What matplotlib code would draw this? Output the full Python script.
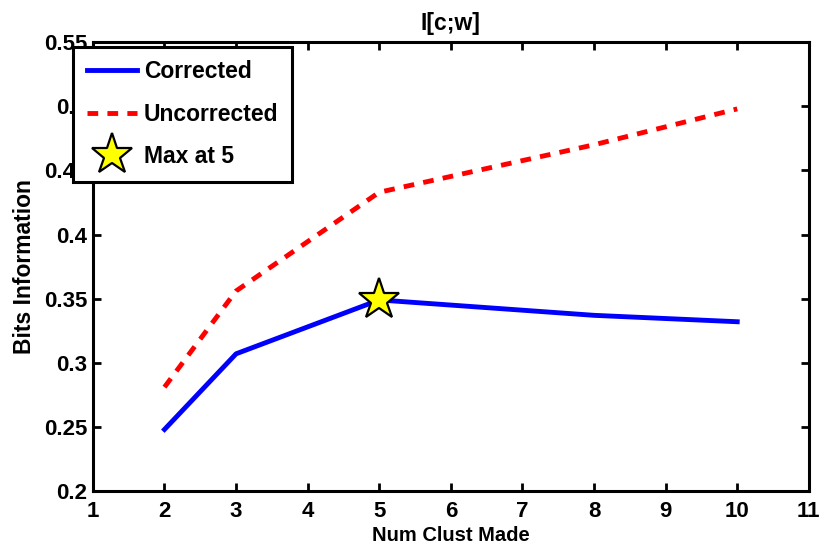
import numpy as np
import matplotlib
matplotlib.use('Agg')
from matplotlib import pyplot as plt

# datos
num_clust = [2, 3, 5, 8, 10]
corregido = [0.248, 0.307, 0.349, 0.337, 0.332]
sin_corregir = [0.281, 0.356, 0.433, 0.470, 0.498]
max_x = 5
max_y = 0.349

plt.rcParams['font.family'] = ['Liberation Sans', 'DejaVu Sans']
plt.rcParams['font.weight'] = 'bold'

fig = plt.figure(figsize=(8.22, 5.48), dpi=100)
ax = fig.add_axes([0.113, 0.104, 0.871, 0.819])

ax.plot(num_clust, corregido, color='#0000ff', lw=3.5, label='Corrected')
ax.plot(num_clust, sin_corregir, color='#ff0000', lw=3.5, dashes=(2.2, 1.9),
        label='Uncorrected')
ax.plot([max_x], [max_y], ls='none', marker='*', ms=31, mfc='#ffff00',
        mec='black', mew=1.6, label='Max at 5', zorder=4)

ax.set_xlim(1, 11)
ax.set_ylim(0.2, 0.55)
ax.set_xticks(range(1, 12))
ax.set_yticks(np.arange(0.2, 0.5501, 0.05))
ax.set_yticklabels(['0.2', '0.25', '0.3', '0.35', '0.4', '0.45', '0.5', '0.55'])

ax.tick_params(direction='in', length=6, width=2, top=True, right=True,
               labelsize=16)
ax.tick_params(axis='x', pad=7)
ax.tick_params(axis='y', pad=4)
for lab in ax.get_xticklabels() + ax.get_yticklabels():
    lab.set_fontweight('bold')
for sp in ax.spines.values():
    sp.set_linewidth(2.2)

ax.set_xlabel('Num Clust Made', fontsize=14.5, fontweight='bold', labelpad=3)
ax.set_ylabel('Bits Information', fontsize=16.5, fontweight='bold', labelpad=6)
ax.set_title('I[c;w]', fontsize=16.5, fontweight='bold', pad=9)

leg = ax.legend(loc='upper left', bbox_to_anchor=(-0.028, 0.99),
                fontsize=16.5, fancybox=False, framealpha=1, edgecolor='black',
                handlelength=2.2, borderpad=0.6, labelspacing=0.85,
                handletextpad=0.3, borderaxespad=0)
leg.get_frame().set_linewidth(2.2)
for t in leg.get_texts():
    t.set_fontweight('bold')

fig.savefig('out.png', dpi=100)
